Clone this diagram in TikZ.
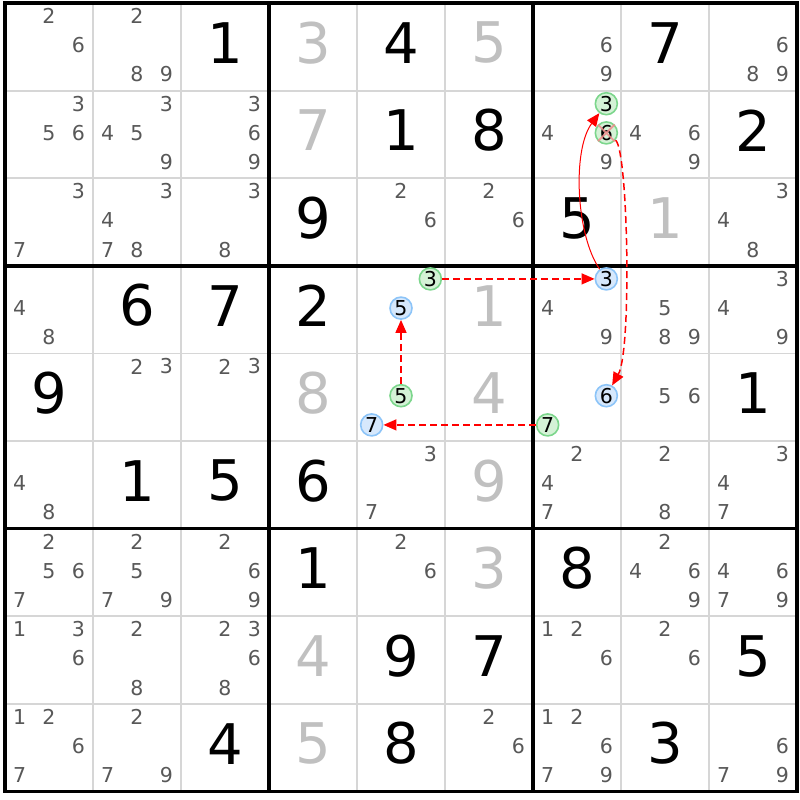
\documentclass[tikz,border=0pt]{standalone}
\usepackage{fontspec}
\setmainfont{DejaVu Sans}
\usetikzlibrary{arrows.meta}
\definecolor{candc}{RGB}{88,88,88}
\definecolor{solvedc}{RGB}{192,192,192}
\definecolor{thinc}{RGB}{214,214,214}
\definecolor{gfill}{RGB}{212,242,214}
\definecolor{gline}{RGB}{124,214,140}
\definecolor{bfill}{RGB}{214,232,252}
\definecolor{bline}{RGB}{140,196,248}
\definecolor{xpink}{RGB}{240,140,140}
\tikzset{
  cand/.style={text=candc, font=\fontsize{20.5}{21}\selectfont, inner sep=0pt},
  given/.style={text=black, font=\fontsize{56}{58}\selectfont, inner sep=0pt},
  solved/.style={given, text=solvedc},
  gcirc/.style={circle, draw=gline, fill=gfill, line width=1.6pt, minimum size=22pt, inner sep=0pt, text=black, font=\fontsize{20.5}{21}\selectfont},
  bcirc/.style={gcirc, draw=bline, fill=bfill},
  thinline/.style={thinc, line width=1.8pt},
  thickline/.style={black, line width=3.5pt},
  slink/.style={red, line width=1pt, -{Triangle[length=13pt,width=11pt]}},
  dlink/.style={red, line width=1.5pt, dash pattern=on 7pt off 4pt, -{Triangle[length=13pt,width=11pt]}},
  xmark/.style={xpink, line width=1.8pt, opacity=0.85}
}
\newcommand\sucands[3]{\foreach \d in {#3}{%
  \pgfmathsetmacro\cx{5+88*(#2-1)+88*(2*mod(\d-1,3)+1)/6}%
  \pgfmathsetmacro\cy{3+87.6*(#1-1)+87.6*(2*floor((\d-1)/3)+1)/6-1.5}%
  \node[cand] (k#1#2\d) at (\cx,\cy) {\d};}}
\newcommand\sugiven[4]{%
  \pgfmathsetmacro\cx{5+88*(#2-0.5)}%
  \pgfmathsetmacro\cy{3+87.6*(#1-0.5)-4}%
  \node[#4] (v#1#2) at (\cx,\cy) {#3};}
\newcommand\sucirc[4]{%
  \pgfmathsetmacro\cx{5+88*(#2-1)+88*(2*mod(#3-1,3)+1)/6}%
  \pgfmathsetmacro\cy{3+87.6*(#1-1)+87.6*(2*floor((#3-1)/3)+1)/6-1.5}%
  \node[#4] (n#1#2d#3) at (\cx,\cy) {#3};}
\begin{document}
\begin{tikzpicture}[x=1pt,y=-1pt]
\useasboundingbox[fill=white] (0,0) rectangle (800,800);
% thin grid
\foreach \i in {1,2,4,5,7,8}{
  \draw[thinline] (5+88*\i,3) -- (5+88*\i,791);
  \draw[thinline] (5,3+87.6*\i) -- (797,3+87.6*\i);
}
\foreach \i in {0,3,6,9}{
  \draw[thickline] (5+88*\i,1.25) -- (5+88*\i,792.75);
  \draw[thickline] (3.25,3+87.6*\i) -- (798.75,3+87.6*\i);
}
% givens
\foreach \r/\c/\v in {1/3/1,1/5/4,1/8/7,2/5/1,2/6/8,2/9/2,3/4/9,3/7/5,4/2/6,4/3/7,4/4/2,5/1/9,5/9/1,6/2/1,6/3/5,6/4/6,7/4/1,7/7/8,8/5/9,8/6/7,8/9/5,9/3/4,9/5/8,9/8/3}{
  \sugiven{\r}{\c}{\v}{given}}
% solved
\foreach \r/\c/\v in {1/4/3,1/6/5,2/4/7,3/8/1,4/6/1,5/4/8,5/6/4,6/6/9,7/6/3,8/4/4,9/4/5}{
  \sugiven{\r}{\c}{\v}{solved}}
% candidates
\sucands{1}{1}{2,6}
\sucands{1}{2}{2,8,9}
\sucands{1}{7}{6,9}
\sucands{1}{9}{6,8,9}
\sucands{2}{1}{3,5,6}
\sucands{2}{2}{3,4,5,9}
\sucands{2}{3}{3,6,9}
\sucands{2}{7}{4,9}
\sucands{2}{8}{4,6,9}
\sucands{3}{1}{3,7}
\sucands{3}{2}{3,4,7,8}
\sucands{3}{3}{3,8}
\sucands{3}{5}{2,6}
\sucands{3}{6}{2,6}
\sucands{3}{9}{3,4,8}
\sucands{4}{1}{4,8}
\sucands{4}{7}{4,9}
\sucands{4}{8}{5,8,9}
\sucands{4}{9}{3,4,9}
\sucands{5}{2}{2,3}
\sucands{5}{3}{2,3}
\sucands{5}{8}{5,6}
\sucands{6}{1}{4,8}
\sucands{6}{5}{3,7}
\sucands{6}{7}{2,4,7}
\sucands{6}{8}{2,8}
\sucands{6}{9}{3,4,7}
\sucands{7}{1}{2,5,6,7}
\sucands{7}{2}{2,5,7,9}
\sucands{7}{3}{2,6,9}
\sucands{7}{5}{2,6}
\sucands{7}{8}{2,4,6,9}
\sucands{7}{9}{4,6,7,9}
\sucands{8}{1}{1,3,6}
\sucands{8}{2}{2,8}
\sucands{8}{3}{2,3,6,8}
\sucands{8}{7}{1,2,6}
\sucands{8}{8}{2,6}
\sucands{9}{1}{1,2,6,7}
\sucands{9}{2}{2,7,9}
\sucands{9}{6}{2,6}
\sucands{9}{7}{1,2,6,7,9}
\sucands{9}{9}{6,7,9}
% highlighted candidates
\sucirc{2}{7}{3}{gcirc}
\sucirc{2}{7}{6}{gcirc}
\sucirc{4}{5}{3}{gcirc}
\sucirc{4}{5}{5}{bcirc}
\sucirc{4}{7}{3}{bcirc}
\sucirc{5}{5}{5}{gcirc}
\sucirc{5}{5}{7}{bcirc}
\sucirc{5}{7}{6}{bcirc}
\sucirc{5}{7}{7}{gcirc}
% elimination mark
\draw[xmark] (n27d6.north west) -- (n27d6.south east) (n27d6.north east) -- (n27d6.south west);
% links
\draw[slink] (n47d3) .. controls (576,235) and (572,150) .. (n27d3);
\draw[dlink] (n27d6) .. controls (628,150) and (632,350) .. (n57d6);
\draw[dlink] (n45d3) -- (n47d3);
\draw[dlink] (n55d5) -- (n45d5);
\draw[dlink] (n57d7) -- (n55d7);
\end{tikzpicture}
\end{document}
